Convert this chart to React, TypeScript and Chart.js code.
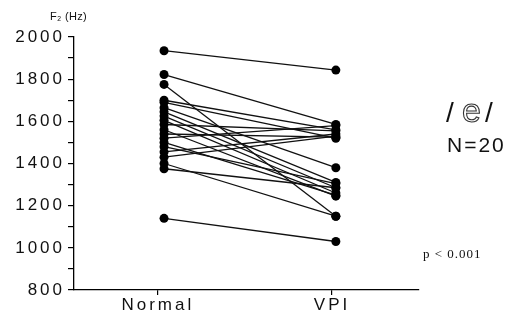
import React, { useEffect, useRef } from "react";
import { Chart, registerables } from "chart.js";

Chart.register(...registerables);

// ---- data ----
const categories = ["Normal", "VPI"];
const normalF2 = [1935, 1822, 1775, 1700, 1690, 1665, 1645, 1625, 1605, 1585, 1560, 1540, 1520, 1500, 1480, 1455, 1430, 1400, 1375, 1140];
const vpiF2 = [1843, 1585, 1150, 1560, 1520, 1380, 1310, 1285, 1260, 1555, 1245, 1525, 1580, 1250, 1305, 1540, 1530, 1150, 1285, 1030];
const yMin = 800;
const yMax = 2000;
const yMajorStep = 200;
const yMinorStep = 100;
const axisTitle = "F\u2082 (Hz)";
const vowelLabel = ["/", "e", "/"];
const nLabel = "N=20";
const pLabel = "p < 0.001";

// positions of the two categories on a 0..1 x scale
const categoryX = [0.261, 0.759];
const categoryTickX = [0.243, 0.748];

const W = 520;
const H = 324;

const textPlugin = {
  id: "textPlugin",
  beforeDraw(chart: any) {
    chart.ctx.letterSpacing = "3px";
  },
  afterDraw(chart: any) {
    const ctx = chart.ctx;
    ctx.save();
    ctx.fillStyle = "#111";
    ctx.strokeStyle = "#111";
    ctx.textAlign = "left";
    ctx.textBaseline = "alphabetic";

    ctx.letterSpacing = "0.3px";
    ctx.font = "11px 'Liberation Sans'";
    ctx.fillText(axisTitle, 50, 20);

    ctx.letterSpacing = "0px";
    ctx.font = "28px 'Liberation Sans'";
    ctx.fillText(vowelLabel[0], 446, 122);
    ctx.font = "34px 'Liberation Sans'";
    ctx.lineWidth = 1.1;
    ctx.strokeStyle = "#333";
    ctx.strokeText(vowelLabel[1], 462, 122);
    ctx.font = "28px 'Liberation Sans'";
    ctx.fillText(vowelLabel[2], 485, 122);

    ctx.letterSpacing = "2px";
    ctx.font = "21px 'Liberation Sans'";
    ctx.fillText(nLabel, 447, 152);

    ctx.letterSpacing = "1px";
    ctx.font = "13px 'Liberation Serif'";
    ctx.fillText(pLabel, 423, 258);

    ctx.restore();
    ctx.letterSpacing = "0px";
  },
};

export default function App() {
  const ref = useRef<HTMLCanvasElement | null>(null);

  useEffect(() => {
    if (!ref.current) return;
    const datasets = normalF2.map((n, i) => ({
      label: "S" + (i + 1),
      data: [
        { x: categoryX[0], y: n },
        { x: categoryX[1], y: vpiF2[i] },
      ],
      showLine: true,
      borderColor: "#111",
      borderWidth: 1.3,
      pointRadius: 4.5,
      pointBackgroundColor: "#000",
      pointBorderWidth: 0,
      pointHoverRadius: 4.5,
    }));

    const chart = new Chart(ref.current, {
      type: "scatter",
      data: { datasets },
      plugins: [textPlugin],
      options: {
        animation: false,
        responsive: false,
        devicePixelRatio: 1,
        layout: { padding: { top: 37, right: 101, left: 0, bottom: 0 } },
        plugins: { legend: { display: false }, tooltip: { enabled: false } },
        scales: {
          x: {
            type: "linear",
            min: 0,
            max: 1,
            afterBuildTicks: (s: any) => {
              s.ticks = categoryTickX.map((v) => ({ value: v }));
            },
            afterFit: (s: any) => {
              s.height = H - 290;
            },
            ticks: {
              callback: (_v: any, i: number) => categories[i],
              color: "#111",
              font: { family: "'Liberation Sans'", size: 17 },
              padding: 0,
              maxRotation: 0,
              autoSkip: false,
            },
            grid: { drawOnChartArea: false, tickLength: 5, color: "#000", lineWidth: 1.2 },
            border: { color: "#000", width: 1.3 },
          },
          y: {
            min: yMin,
            max: yMax,
            afterFit: (s: any) => {
              s.width = 74;
            },
            ticks: {
              stepSize: yMinorStep,
              maxTicksLimit: 30,
              callback: (v: any) => (v % yMajorStep === 0 ? String(v) : " "),
              color: "#111",
              font: { family: "'Liberation Sans'", size: 17 },
              padding: 3,
              autoSkip: false,
            },
            grid: { drawOnChartArea: false, tickLength: 6, color: "#000", lineWidth: 1.2 },
            border: { color: "#000", width: 1.3 },
          },
        },
      },
    });
    return () => chart.destroy();
  }, []);

  return (
    <div style={{ position: "absolute", left: 0, top: 0, width: W, height: H, background: "#fff" }}>
      <canvas ref={ref} width={W} height={H} style={{ width: W, height: H, display: "block" }} />
    </div>
  );
}
